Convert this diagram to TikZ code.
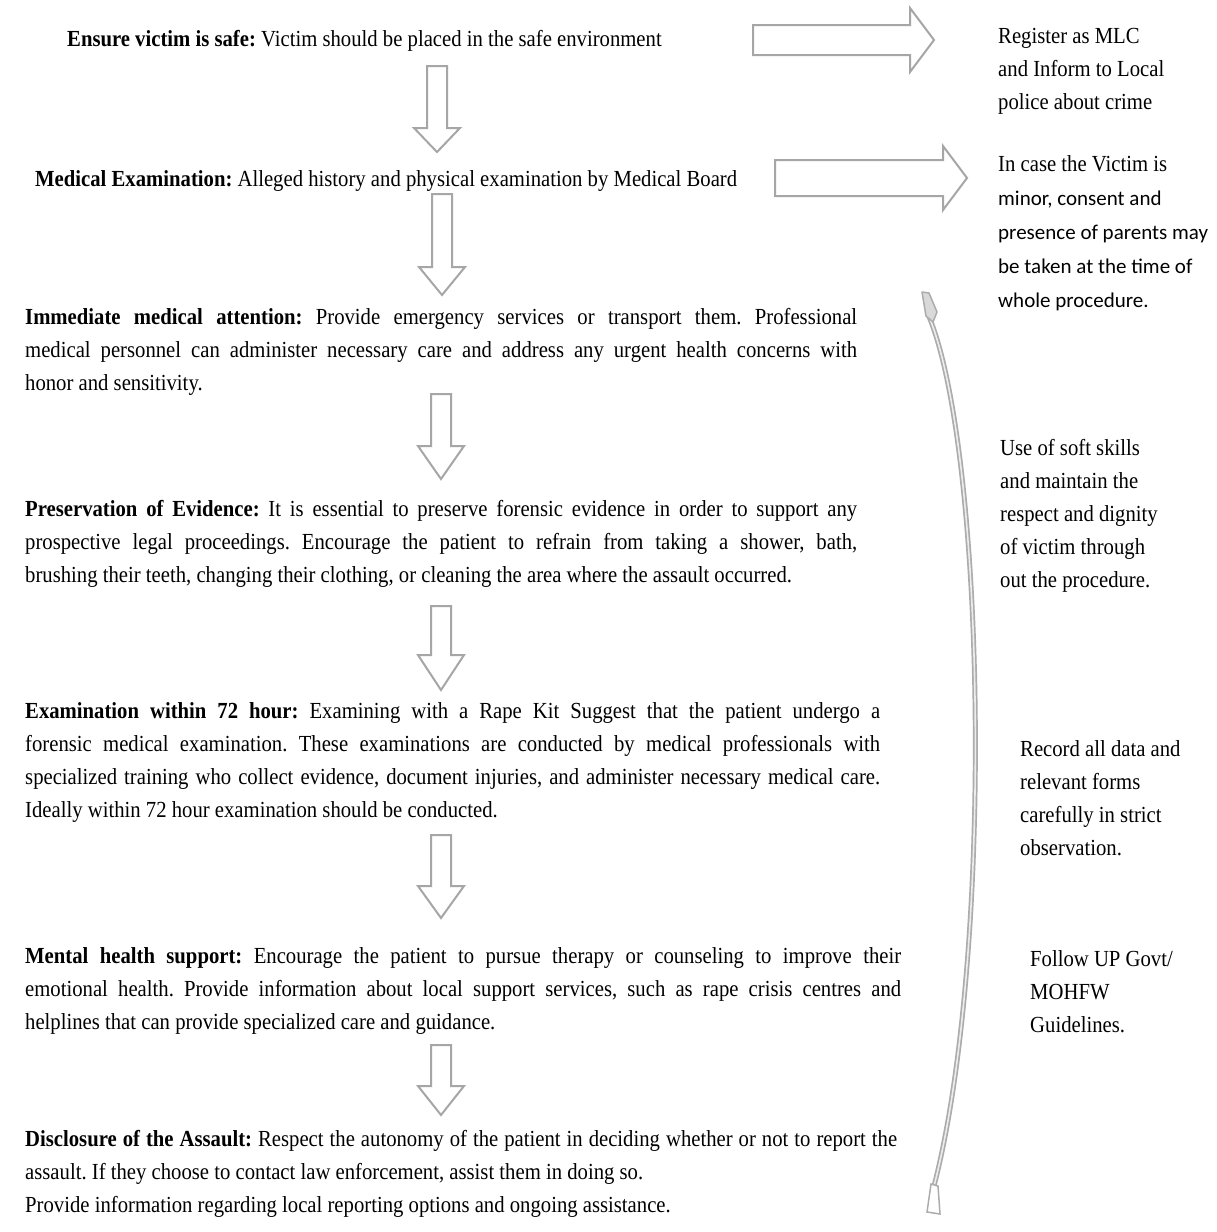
\documentclass[tikz,border=0pt]{standalone}
\usepackage{fontspec}
\setmainfont{Liberation Serif}[FakeStretch=0.9]
\newfontfamily\calib{Carlito}
\begin{document}
\begin{tikzpicture}[x=1pt,y=-1pt]
\tikzset{
  txt/.style={anchor=base west, inner sep=0pt, align=justify, text width=#1,
    font=\fontsize{23}{33}\selectfont\frenchspacing, text=black},
  rtxt/.style={anchor=base west, inner sep=0pt, align=flush left, text width=#1,
    font=\fontsize{23}{33}\selectfont\frenchspacing, text=black},
  rtxt/.default=215pt,
  blk/.style={draw=gray!70, line width=2pt, fill=white, line join=miter},
}
\newcommand\blockdown[4]{%
  \draw[blk] ({#1-10},#2) -- ({#1+10},#2) -- ({#1+10},#3) -- ({#1+23},#3)
    -- (#1,#4) -- ({#1-23},#3) -- ({#1-10},#3) -- cycle;}
\newcommand\blockright[6]{% x0, xbase, xtip, yc, shaft half, head half
  \draw[blk] (#1,{#4-#5}) -- (#2,{#4-#5}) -- (#2,{#4-#6}) -- (#3,#4)
    -- (#2,{#4+#6}) -- (#2,{#4+#5}) -- (#1,{#4+#5}) -- cycle;}
\fill[white] (0,0) rectangle (1216,1232);
\useasboundingbox (0,0) rectangle (1216,1232);

% left column
\node[rtxt=800pt] (s1) at (67,46) {\textbf{Ensure victim is safe:} Victim should be placed in the safe environment};
\node[rtxt=800pt] (s2) at (35,186) {\textbf{Medical Examination:} Alleged history and physical examination by Medical Board};
\node[txt=832pt] (s3) at (25,324) {\textbf{Immediate medical attention:} Provide emergency services or transport them. Professional\linebreak medical personnel can administer necessary care and address any urgent health concerns with\linebreak honor and sensitivity.};
\node[txt=832pt] (s4) at (25,516) {\textbf{Preservation of Evidence:} It is essential to preserve forensic evidence in order to support any\linebreak prospective legal proceedings. Encourage the patient to refrain from taking a shower, bath,\linebreak brushing their teeth, changing their clothing, or cleaning the area where the assault occurred.};
\node[txt=855pt] (s5) at (25,718) {\textbf{Examination within 72 hour:} Examining with a Rape Kit Suggest that the patient undergo a\linebreak forensic medical examination. These examinations are conducted by medical professionals with\linebreak specialized training who collect evidence, document injuries, and administer necessary medical care.\linebreak Ideally within 72 hour examination should be conducted.};
\node[txt=876pt] (s6) at (25,963) {\textbf{Mental health support:} Encourage the patient to pursue therapy or counseling to improve their\linebreak emotional health. Provide information about local support services, such as rape crisis centres and\linebreak helplines that can provide specialized care and guidance.};
\node[txt=872pt] (s7) at (25,1146) {\textbf{Disclosure of the Assault:} Respect the autonomy of the patient in deciding whether or not to report the\linebreak assault. If they choose to contact law enforcement, assist them in doing so.\\ Provide information regarding local reporting options and ongoing assistance.};

% right column
\node[rtxt] (r1) at (998,43) {Register as MLC\\ and Inform to Local\\ police about crime};
\node[rtxt, font=\fontsize{23}{34}\selectfont\frenchspacing] (r2) at (998,171) {In case the Victim is\\ {\calib\fontsize{21}{34}\selectfont minor, consent and}\\ {\calib\fontsize{21}{34}\selectfont presence of parents may}\\ {\calib\fontsize{21}{34}\selectfont be taken at the time of}\\ {\calib\fontsize{21}{34}\selectfont whole procedure.}};
\node[rtxt] (r3) at (1000,455) {Use of soft skills\\ and maintain the\\ respect and dignity\\ of victim through\\ out the procedure.};
\node[rtxt] (r4) at (1020,756) {Record all data and\\ relevant forms\\ carefully in strict\\ observation.};
\node[rtxt] (r5) at (1030,966) {Follow UP Govt/\\ MOHFW\\ Guidelines.};

% down block arrows
\blockdown{437}{66}{128}{152}
\blockdown{442}{194}{267}{295}
\blockdown{441}{394}{446}{479}
\blockdown{441}{606}{655}{690}
\blockdown{441}{835}{886}{918}
\blockdown{441}{1045}{1086}{1115}

% right block arrows
\blockright{753}{910}{934}{40}{15}{32}
\blockright{775}{943}{967}{178}{18}{32}

% long curved arrow
\coordinate (ctail) at (934,1186);
\coordinate (chead) at (927,312);
\draw[gray!65, line width=5pt] (ctail) .. controls (995,950) and (985,440) .. (chead);
\draw[gray!15, line width=1.6pt] (ctail) .. controls (995,950) and (985,440) .. (chead);
\draw[gray!65, fill=gray!30, line width=1.5pt, line join=round] (922,292) -- (929,293) -- (937,312) -- (933,322) -- (926,316) -- cycle;
\draw[gray!65, fill=white, line width=1.5pt] (931,1184) -- (938,1186) -- (940,1214) -- (927,1212) -- cycle;
\end{tikzpicture}
\end{document}
